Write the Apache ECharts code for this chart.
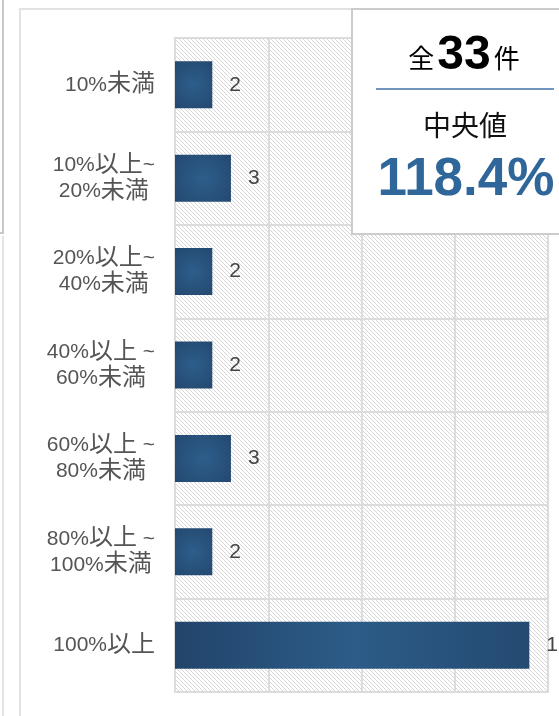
<!DOCTYPE html>
<html>
<head>
<meta charset="utf-8">
<script src="https://cdn.jsdelivr.net/npm/echarts@6/dist/echarts.min.js"></script>
<style>
  html, body { margin: 0; padding: 0; background: #fff; }
  #chart { width: 559px; height: 716px; }
</style>
</head>
<body>
<div id="chart"></div>
<script>
// data
var categories = ['10%未満', '10%以上~\n20%未満', '20%以上~\n40%未満', '40%以上 ~\n60%未満', '60%以上 ~\n80%未満', '80%以上 ~\n100%未満', '100%以上'];
var counts = [2, 3, 2, 2, 3, 2, 19];
var totalCount = 33;
var medianText = '118.4%';

var fontFamily = '"Liberation Sans", Arial, "Noto Sans CJK JP", sans-serif';
var blue = '#30679a';

// hatched background (diagonal lines)
var hatch = document.createElement('canvas');
hatch.width = 4;
hatch.height = 4;
var hctx = hatch.getContext('2d');
hctx.fillStyle = '#fff';
hctx.fillRect(0, 0, 4, 4);
hctx.fillStyle = '#d6d6d6';
for (var i = 0; i < 4; i++) {
    hctx.fillRect(i, i, 1, 1);
}

function barColor(params) {
    if (params.value > 5) {
        return {
            type: 'linear', x: 0, y: 0, x2: 1, y2: 0,
            colorStops: [
                { offset: 0, color: '#22446a' },
                { offset: 0.5, color: '#2c5c88' },
                { offset: 1, color: '#244a71' }
            ]
        };
    }
    return {
        type: 'radial', x: 0.5, y: 0.5, r: 0.9,
        colorStops: [
            { offset: 0, color: '#2d5e8b' },
            { offset: 1, color: '#22456c' }
        ]
    };
}

// split a line into latin / CJK runs (CJK drawn a bit larger, like the original)
function richLine(s) {
    var out = '';
    var buf = '';
    var cjk = false;
    for (var k = 0; k < s.length; k++) {
        var ch = s.charAt(k);
        var isCjk = /[\u3000-\u9fff]/.test(ch);
        if (buf && isCjk !== cjk) {
            out += '{' + (cjk ? 'j' : 'c') + '|' + buf + '}';
            buf = '';
        }
        cjk = isCjk;
        buf += ch;
    }
    if (buf) out += '{' + (cjk ? 'j' : 'c') + '|' + buf + '}';
    return out;
}

var chart = echarts.init(document.getElementById('chart'));

var option = {
    animation: false,
    backgroundColor: '#fff',
    textStyle: { fontFamily: fontFamily },
    grid: {
        left: 175,
        top: 38,
        right: 11,
        bottom: 24,
        show: true,
        backgroundColor: { image: hatch, repeat: 'repeat' },
        borderColor: '#dcdcdc',
        borderWidth: 2
    },
    xAxis: {
        type: 'value',
        min: 0,
        max: 20,
        interval: 5,
        axisLabel: { show: false },
        axisLine: { show: false },
        axisTick: { show: false },
        splitLine: { lineStyle: { color: '#dcdcdc', width: 2 } }
    },
    yAxis: {
        type: 'category',
        inverse: true,
        data: categories,
        axisLine: { show: false },
        axisTick: { show: false },
        splitLine: { show: true, interval: 0, lineStyle: { color: '#dcdcdc', width: 2 } },
        axisLabel: {
            margin: 20,
            fontSize: 21,
            color: '#555',
            lineHeight: 26,
            formatter: function (val) {
                return val.split('\n').map(richLine).join('\n');
            },
            rich: {
                c: { align: 'center', fontSize: 21, color: '#555', lineHeight: 26, fontFamily: fontFamily },
                j: { align: 'center', fontSize: 24, color: '#555', lineHeight: 26, fontFamily: fontFamily }
            }
        }
    },
    series: [{
        type: 'bar',
        data: counts,
        barWidth: 47,
        itemStyle: { color: barColor },
        label: {
            show: true,
            position: 'right',
            distance: 17,
            fontSize: 21,
            color: '#444'
        }
    }],
    graphic: [
        // side panels
        { type: 'rect', shape: { x: -20, y: -20, width: 23, height: 253 }, style: { fill: 'none', stroke: '#c8c8c8', lineWidth: 2 }, z: 10 },
        { type: 'line', shape: { x1: 3, y1: 236, x2: 3, y2: 716 }, style: { stroke: '#e4e4e4', lineWidth: 2 }, z: 10 },
        { type: 'rect', shape: { x: 20, y: 9, width: 600, height: 800 }, style: { fill: 'none', stroke: '#e2e2e2', lineWidth: 2 }, z: -1 },
        // summary box
        { type: 'rect', shape: { x: 352, y: 9, width: 240, height: 225 }, style: { fill: '#fff', stroke: '#cccccc', lineWidth: 2 }, z: 20 },
        {
            type: 'text', x: 464, y: 56, z: 21,
            style: {
                text: '{a|全}{b|' + totalCount + '}{a|件}',
                align: 'center', verticalAlign: 'middle',
                rich: {
                    a: { fontSize: 26, color: '#111', fontFamily: fontFamily, padding: [10, 3, 0, 3] },
                    b: { fontSize: 48, fontWeight: 'bold', color: blue, fontFamily: fontFamily }
                }
            }
        },
        { type: 'line', shape: { x1: 376, y1: 89, x2: 554, y2: 89 }, style: { stroke: '#7196bd', lineWidth: 2 }, z: 21 },
        {
            type: 'text', x: 465, y: 128, z: 21,
            style: { text: '中央値', align: 'center', verticalAlign: 'middle', fontSize: 28, fill: '#111', fontFamily: fontFamily }
        },
        {
            type: 'text', x: 466, y: 180, z: 21,
            style: { text: medianText, align: 'center', verticalAlign: 'middle', fontSize: 53, fontWeight: 'bold', fill: blue, fontFamily: fontFamily }
        }
    ]
};

chart.setOption(option);
</script>
</body>
</html>
